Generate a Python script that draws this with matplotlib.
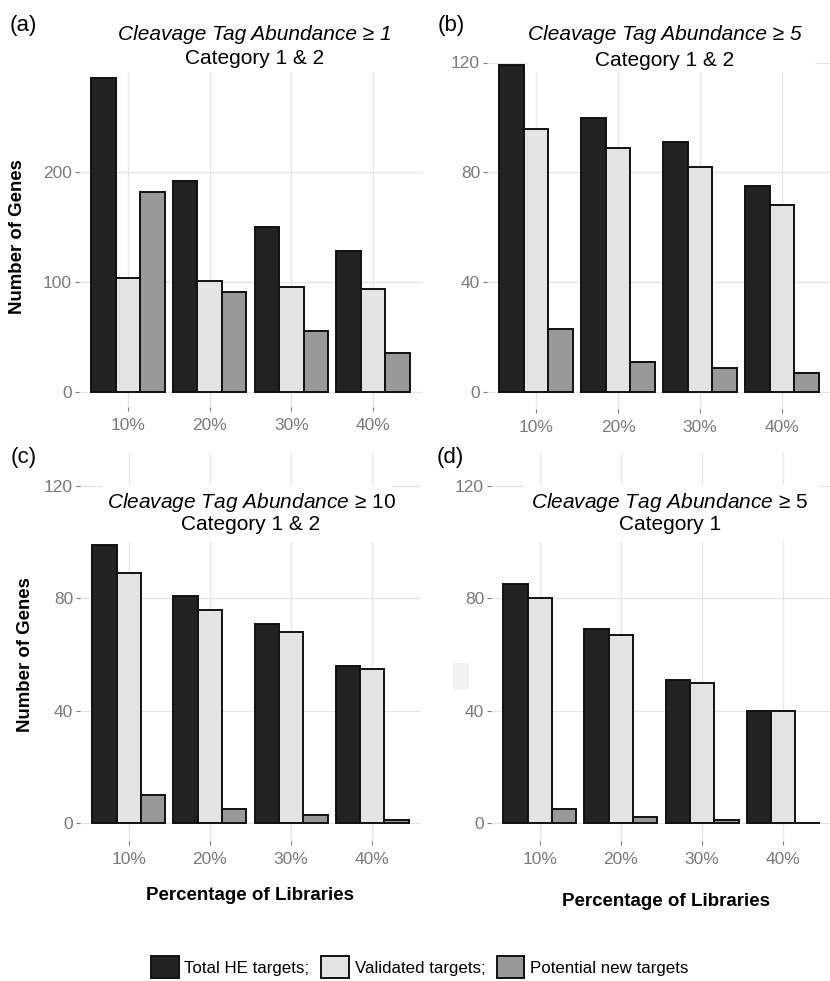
import numpy as np
import matplotlib
matplotlib.use("Agg")
import matplotlib.pyplot as plt
from matplotlib.patches import Rectangle

plt.rcParams['font.family'] = ['Liberation Sans', 'DejaVu Sans']
plt.rcParams['mathtext.fontset'] = 'custom'
plt.rcParams['mathtext.rm'] = 'Liberation Sans'
plt.rcParams['mathtext.it'] = 'Liberation Sans:italic'

W, H = 830, 981

# data
pct = ['10%', '20%', '30%', '40%']

a_total = [285, 192, 150, 128]
a_valid = [103, 101, 95, 93]
a_new = [182, 91, 55, 35]

b_total = [119, 100, 91, 75]
b_valid = [96, 89, 82, 68]
b_new = [23, 11, 9, 7]

c_total = [99, 81, 71, 56]
c_valid = [89, 76, 68, 55]
c_new = [10, 5, 3, 1]

d_total = [85, 69, 51, 40]
d_valid = [80, 67, 50, 40]
d_new = [5, 2, 1, 0]

series_names = ['Total HE targets;', 'Validated targets;', 'Potential new targets']
fill = ['#222222', '#e3e3e3', '#999999']
edge = '#111111'
tick_grey = '#7a7a7a'


def box(l, t, r, b):
    # pixel box (top-left origin) -> figure fraction rect
    return [l / W, 1 - b / H, (r - l) / W, (b - t) / H]


def fx(x):
    return x / W


def fy(y):
    return 1 - y / H


def panel(rect, total, valid, new, ylim, yticks):
    ax = fig.add_axes(rect)
    x = np.arange(len(pct))
    w = 0.3
    bars = []
    for k, vals in enumerate([total, valid, new]):
        bars.append(ax.bar(x + (k - 1) * w, vals, w, color=fill[k], edgecolor=edge,
                           linewidth=1.4, zorder=3))
    ax.set_xlim(-0.6, 3.6)
    ax.set_ylim(*ylim)
    ax.set_xticks(x)
    ax.set_xticklabels(pct)
    ax.set_yticks(yticks)
    ax.set_axisbelow(True)
    ax.grid(True, color='#e6e6e6', linewidth=1.0)
    for s in ax.spines.values():
        s.set_visible(False)
    ax.tick_params(axis='both', colors=tick_grey, labelsize=12.5, length=3, width=0.8)
    ax.tick_params(axis='x', pad=5)
    ax.tick_params(axis='y', pad=2)
    return ax, bars


def title_box(l, t, r, b, line1, line2, cx, y1, y2, style='normal'):
    fig.add_artist(Rectangle((fx(l), fy(b)), fx(r) - fx(l), fy(t) - fy(b),
                             transform=fig.transFigure, facecolor='white',
                             edgecolor='none', zorder=5))
    fig.text(fx(cx), fy(y1), line1, ha='center', va='center', fontsize=15,
             style=style, zorder=6)
    fig.text(fx(cx), fy(y2), line2, ha='center', va='center', fontsize=15,
             zorder=6)


fig = plt.figure(figsize=(W / 100, H / 100), dpi=100)

ax_a, bars = panel(box(79, 62, 422, 407), a_total, a_valid, a_new, (-14, 300), [0, 100, 200])
ax_b, _ = panel(box(487, 46, 831, 409), b_total, b_valid, b_new, (-6, 126), [0, 40, 80, 120])
ax_c, _ = panel(box(80, 453, 421, 841), c_total, c_valid, c_new, (-6.4, 131.8), [0, 40, 80, 120])
ax_d, _ = panel(box(491, 453, 832, 841), d_total, d_valid, d_new, (-6.4, 131.8), [0, 40, 80, 120])

title_box(111, 20, 399, 72, 'Cleavage Tag Abundance ≥ 1', 'Category 1 & 2', 255, 34, 59, style='italic')
title_box(527, 20, 815, 72, 'Cleavage Tag Abundance ≥ 5', 'Category 1 & 2', 665, 34, 60, style='italic')
title_box(103, 485, 392, 542, r'$\mathit{Cleavage\ Tag\ Abundance}$ ≥ 10', 'Category 1 & 2', 251, 502, 525)
title_box(523, 485, 818, 542, r'$\mathit{Cleavage\ Tag\ Abundance}$ ≥ 5', 'Category 1', 670, 502, 525)

# small grey smudge present in the source panel (d)
fig.add_artist(Rectangle((fx(453), fy(690)), fx(469) - fx(453), fy(663) - fy(690),
                         transform=fig.transFigure, facecolor='#f2f2f2',
                         edgecolor='none', zorder=1))

for lab, x, y in [('(a)', 10, 25), ('(b)', 438, 25), ('(c)', 11, 458), ('(d)', 437, 458)]:
    fig.text(fx(x), fy(y), lab, ha='left', va='center', fontsize=16, zorder=6)

fig.text(fx(17), fy(237), 'Number of Genes', rotation=90, ha='center', va='center',
         fontsize=13.4, fontweight='bold')
fig.text(fx(25), fy(655), 'Number of Genes', rotation=90, ha='center', va='center',
         fontsize=13.4, fontweight='bold')
fig.text(fx(250), fy(896), 'Percentage of Libraries', ha='center', va='center',
         fontsize=13.5, fontweight='bold')
fig.text(fx(666), fy(901), 'Percentage of Libraries', ha='center', va='center',
         fontsize=13.5, fontweight='bold')

fig.legend([b[0] for b in bars], series_names, loc='center', bbox_to_anchor=(fx(420), fy(967)),
           ncol=3, frameon=False, fontsize=12.2, handlelength=1.6, handleheight=1.6,
           handletextpad=0.35, columnspacing=0.7, borderpad=0)

fig.savefig('out.png', dpi=100)
